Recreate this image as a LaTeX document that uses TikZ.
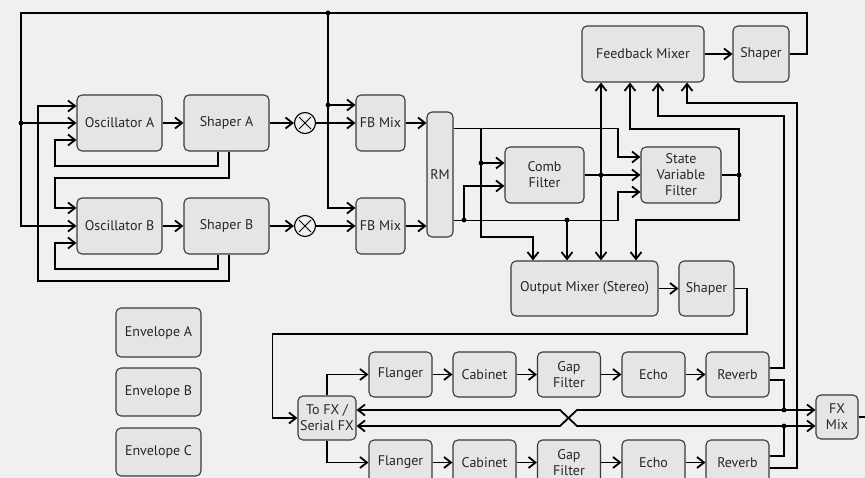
\documentclass[tikz,border=0pt]{standalone}
\usepackage{fontspec}
\setmainfont{PT Sans}
\usetikzlibrary{arrows.meta,calc}
\definecolor{bg}{HTML}{F0F0F0}
\definecolor{boxfill}{HTML}{E5E5E5}
\definecolor{boxline}{HTML}{3A3A3A}
\definecolor{txt}{HTML}{262626}
\begin{document}
\begin{tikzpicture}[x=1pt,y=-1pt,
  blk/.style={draw=boxline, fill=boxfill, line width=1.1pt, rounded corners=5pt, inner sep=0pt, align=center, text=txt, font=\fontsize{14}{16}\selectfont},
  wire/.style={line width=1.8pt, draw=black},
  arr/.style={wire, -{Straight Barb[length=7pt,width=11pt]}},
  dot/.style={circle, fill=black, inner sep=0pt, minimum size=4.8pt},
  mul/.style={circle, draw=black, line width=1.1pt, minimum size=21pt, inner sep=0pt}
]
\fill[bg] (0,0) rectangle (865,478);
\useasboundingbox (0,0) rectangle (865,478);

% oscillator section
\node[blk, minimum width=85pt, minimum height=56pt] (oscA) at (119.5,123) {Oscillator A};
\node[blk, minimum width=85pt, minimum height=56pt] (shA) at (226.5,123) {Shaper A};
\node[mul] (mulA) at (305,123) {};
\node[blk, minimum width=49pt, minimum height=56pt] (fbA) at (380.5,123) {FB Mix};
\node[blk, minimum width=85pt, minimum height=56pt] (oscB) at (119.5,226) {Oscillator B};
\node[blk, minimum width=85pt, minimum height=56pt] (shB) at (226.5,226) {Shaper B};
\node[mul] (mulB) at (305,226) {};
\node[blk, minimum width=49pt, minimum height=56pt] (fbB) at (380.5,226) {FB Mix};
\node[blk, minimum width=26pt, minimum height=125pt] (rm) at (440,174.5) {RM};

\foreach \m in {mulA,mulB}{
  \draw[line width=1pt] ($(\m)+(-6,-6)$) -- ($(\m)+(6,6)$);
  \draw[line width=1pt] ($(\m)+(-6,6)$) -- ($(\m)+(6,-6)$);
}

% filters and mixers
\node[blk, minimum width=79pt, minimum height=56pt] (comb) at (544.5,175) {Comb\\Filter};
\node[blk, minimum width=80pt, minimum height=56pt] (svf) at (681,175) {State\\Variable\\Filter};
\node[blk, minimum width=122pt, minimum height=56pt] (fmix) at (643,54) {Feedback Mixer};
\node[blk, minimum width=56pt, minimum height=56pt] (shF) at (761,54) {Shaper};
\node[blk, minimum width=147pt, minimum height=55pt] (omix) at (584.5,288.5) {Output Mixer (Stereo)};
\node[blk, minimum width=55pt, minimum height=55pt] (shO) at (706.5,288.5) {Shaper};

% envelopes
\node[blk, minimum width=85pt, minimum height=49pt] (envA) at (158.5,332.5) {Envelope A};
\node[blk, minimum width=85pt, minimum height=48pt] (envB) at (158.5,392) {Envelope B};
\node[blk, minimum width=85pt, minimum height=48pt] (envC) at (158.5,452) {Envelope C};

% FX section
\node[blk, minimum width=58pt, minimum height=44pt] (tofx) at (327,418) {To FX /\\Serial FX};
\foreach \r/\y in {1/374.5,2/462.5}{
  \node[blk, minimum width=63pt, minimum height=45pt] (fl\r) at (400.5,\y) {Flanger};
  \node[blk, minimum width=63pt, minimum height=45pt] (cab\r) at (484.5,\y) {Cabinet};
  \node[blk, minimum width=63pt, minimum height=45pt] (gap\r) at (569,\y) {Gap\\Filter};
  \node[blk, minimum width=63pt, minimum height=45pt] (echo\r) at (653.5,\y) {Echo};
  \node[blk, minimum width=63pt, minimum height=45pt] (rev\r) at (737.5,\y) {Reverb};
  \draw[arr] (fl\r.east) -- (cab\r.west);
  \draw[arr] (cab\r.east) -- (gap\r.west);
  \draw[arr] (gap\r.east) -- (echo\r.west);
  \draw[arr] (echo\r.east) -- (rev\r.west);
}
\node[blk, minimum width=42pt, minimum height=44pt] (fxmix) at (837,417) {FX\\Mix};

% junction dots
\node[dot] (dA) at (21,123) {};
\node[dot] (dT) at (328,13) {};
\node[dot] (dF) at (328,105) {};
\node[dot] (dc1) at (481,163) {};
\node[dot] (dc2) at (464,220) {};
\node[dot] (dc3) at (567,220) {};
\node[dot] (dv) at (601,175) {};
\node[dot] (ds) at (739,175) {};
\node[dot] (dx1) at (784,410) {};
\node[dot] (dx2) at (784,426) {};
\coordinate (jr) at (481,129);

% feedback loop over the top
\draw[arr] (shF.east) -| (807,13) -- (21,13) |- (oscB.west);
\draw[arr] (dA.center) -- (oscA.west);
\draw[arr] (dT.center) |- ($(fbB.west)+(0,-18)$);
\draw[arr] (dF.center) -- ($(fbA.west)+(0,-18)$);

% main chains
\draw[arr] (oscA.east) -- (shA.west);
\draw[arr] (shA.east) -- (mulA.west);
\draw[arr] (mulA.east) -- (fbA.west);
\draw[arr] (fbA.east) -- (fbA.east -| rm.west);
\draw[arr] (oscB.east) -- (shB.west);
\draw[arr] (shB.east) -- (mulB.west);
\draw[arr] (mulB.east) -- (fbB.west);
\draw[arr] (fbB.east) -- (fbB.east -| rm.west);

% shaper feedback to oscillators
\draw[arr] ($(shA.south)+(-8.5,0)$) |- (55,166) |- ($(oscA.west)+(0,17)$);
\draw[arr] ($(shA.south)+(2.5,0)$) |- (55,178) |- ($(oscB.west)+(0,-18)$);
\draw[arr] ($(shB.south)+(-8.5,0)$) |- (55,269) |- ($(oscB.west)+(0,17)$);
\draw[arr] ($(shB.south)+(2.5,0)$) |- (38,281) |- ($(oscA.west)+(0,-17)$);

% RM outputs
\draw[arr] ($(rm.north east)+(0,17)$) -| (618,157) -- ($(svf.west)+(0,-18)$);
\draw[arr] (jr) |- (533,237) -- ($(omix.north)+(-51.5,0)$);
\draw[arr] (dc1.center) -- ($(comb.west)+(0,-12)$);
\draw[arr] ($(rm.south east)+(0,-17)$) -| (618,192) -- ($(svf.west)+(0,17)$);
\draw[arr] (dc2.center) |- ($(comb.west)+(0,11)$);
\draw[arr] (dc3.center) -- ($(omix.north)+(-17.5,0)$);

% comb / svf
\draw[arr] (comb.east) -- (svf.west);
\draw[arr] (dv.center) -- ($(fmix.south)+(-42,0)$);
\draw[arr] (dv.center) -- ($(omix.north)+(16.5,0)$);
\draw[wire] (svf.east) -- (ds.center);
\draw[arr] (ds.center) |- (630,129) -- ($(fmix.south)+(-13,0)$);
\draw[arr] (ds.center) |- (636,220) -- ($(omix.north)+(51.5,0)$);

% reverbs to feedback mixer
\draw[arr] ($(rev1.east)+(0,-6.5)$) -| (784,116) -| ($(fmix.south)+(15,0)$);
\draw[arr] ($(rev2.east)+(0,5.5)$) -| (797,103) -| ($(fmix.south)+(44,0)$);

\draw[arr] (fmix.east) -- (shF.west);
\draw[arr] (omix.east) -- (shO.west);

% output to FX
\draw[arr] (shO.east) -| (747,334) -| ($(tofx.west)+(-25,0)$) -- (tofx.west);
\draw[arr] (tofx.north) |- (fl1.west);
\draw[arr] (tofx.south) |- (fl2.west);

% reverb outputs, crossing back to FX
\draw[wire] ($(rev1.east)+(0,5.5)$) -| (dx1.center);
\draw[wire] ($(rev2.east)+(0,-6.5)$) -| (dx2.center);
\draw[arr] (dx1.center) -- ($(fxmix.west)+(0,-7)$);
\draw[arr] (dx2.center) -- ($(fxmix.west)+(0,9)$);
\draw[arr] (dx1.center) -- (577,410) -- (560,426) -- ($(tofx.east)+(0,8)$);
\draw[arr] (dx2.center) -- (577,426) -- (560,410) -- ($(tofx.east)+(0,-8)$);
\draw[wire] (fxmix.east) -- (865,417);
\end{tikzpicture}
\end{document}
